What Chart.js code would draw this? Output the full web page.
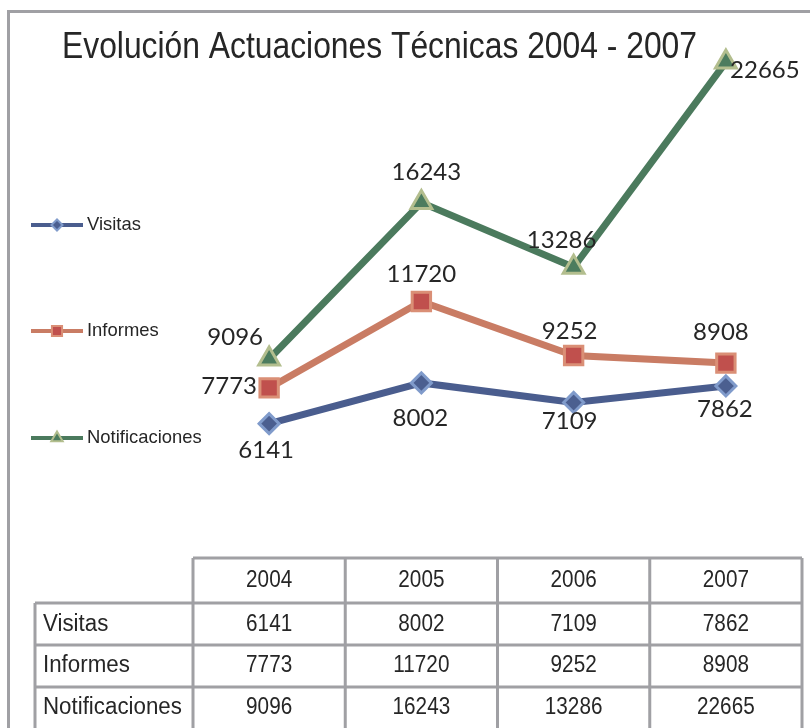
<!DOCTYPE html>
<html>
<head>
<meta charset="utf-8">
<script src="https://cdn.jsdelivr.net/npm/chart.js@4.4.1/dist/chart.umd.min.js"></script>
<style>
html,body{margin:0;padding:0;background:#fff;}
canvas{display:block;}
</style>
</head>
<body>
<canvas id="c" width="810" height="728"></canvas>
<script>
// ---- data ----
const categories = ['2004', '2005', '2006', '2007'];
const seriesNames = ['Visitas', 'Informes', 'Notificaciones'];
const visitas = [6141, 8002, 7109, 7862];
const informes = [7773, 11720, 9252, 8908];
const notificaciones = [9096, 16243, 13286, 22665];
const yMin = 0;
const yMax = 25000;
const titleText = 'Evolución Actuaciones Técnicas 2004 - 2007';

// ---- styles / label placement (not data) ----
const lineColors = ['#4A5D8E', '#C97C64', '#4B7A5D'];
const markerFill = ['#4B5F90', '#C0504D', '#4C7C5E'];
const markerBorder = ['#809BCB', '#DA8F76', '#B3BE8E'];
const markerStyle = ['rectRot', 'rect', 'triangle'];
const markerRadius = [10, 13, 12];
const labelOffsets = [
  [[-3, 27], [-1, 35], [-4, 19], [-1, 23]],
  [[-40, -2], [0, -27], [-4, -24], [-5, -31]],
  [[-34, -22], [5, -30], [-12, -27], [39, 8]]
];
const legendY = [225, 331, 438];
const GRAY = '#A0A0A4';
const TXT = '#262626';

function stxt(ctx, s, x, y, font, align, sx) {
  ctx.save();
  ctx.font = font;
  ctx.textAlign = align;
  ctx.textBaseline = 'middle';
  ctx.translate(x, y);
  ctx.scale(sx, 1);
  ctx.fillText(s, 0, 0);
  ctx.restore();
}

const allSeries = [visitas, informes, notificaciones];

const decorPlugin = {
  id: 'decor',
  beforeDraw(chart) {
    const ctx = chart.ctx;
    ctx.save();
    ctx.fillStyle = '#fff';
    ctx.fillRect(0, 0, chart.width, chart.height);
    ctx.restore();
  },
  afterDatasetsDraw(chart) {
    const ctx = chart.ctx;
    ctx.save();
    ctx.fillStyle = TXT;
    ctx.font = '24px Lato';
    ctx.textAlign = 'center';
    ctx.textBaseline = 'middle';
    chart.data.datasets.forEach((ds, i) => {
      const meta = chart.getDatasetMeta(i);
      meta.data.forEach((pt, j) => {
        const off = labelOffsets[i][j];
        ctx.fillText(String(ds.data[j]), pt.x + off[0], pt.y + off[1]);
      });
    });
    ctx.restore();
  },
  afterDraw(chart) {
    const ctx = chart.ctx;
    const xs = chart.scales.x;
    const area = chart.chartArea;
    ctx.save();
    // outer frame (top and left)
    ctx.strokeStyle = GRAY;
    ctx.lineWidth = 3;
    ctx.beginPath();
    ctx.moveTo(8.5, 728);
    ctx.lineTo(8.5, 11.5);
    ctx.lineTo(810, 11.5);
    ctx.stroke();

    // title
    ctx.fillStyle = TXT;
    ctx.font = '36px "Liberation Sans"';
    const tw = ctx.measureText(titleText).width;
    ctx.save();
    ctx.textAlign = 'left';
    ctx.textBaseline = 'alphabetic';
    ctx.translate(62, 58);
    ctx.scale(635 / tw, 1);
    ctx.fillText(titleText, 0, 0);
    ctx.restore();

    // legend
    chart.data.datasets.forEach((ds, i) => {
      const y = legendY[i];
      ctx.strokeStyle = lineColors[i];
      ctx.lineWidth = 4;
      ctx.beginPath();
      ctx.moveTo(31, y);
      ctx.lineTo(83, y);
      ctx.stroke();
      ctx.fillStyle = markerFill[i];
      ctx.strokeStyle = markerBorder[i];
      ctx.lineWidth = 2;
      Chart.helpers.drawPoint(ctx, {
        pointStyle: markerStyle[i],
        radius: markerRadius[i] * 0.55,
        borderWidth: 2
      }, 57, y);
      ctx.fillStyle = TXT;
      stxt(ctx, ds.label, 87, y, '19px "Liberation Sans"', 'left', 0.97);
    });

    // data table
    const half = (xs.getPixelForValue(1) - xs.getPixelForValue(0)) / 2;
    const left = area.left, right = area.right;
    const top = area.bottom;
    const rowTops = [top, 603, 645, 687];
    const rowBottom = 740;
    const labelLeft = 35;
    ctx.strokeStyle = GRAY;
    ctx.lineWidth = 3;
    ctx.beginPath();
    ctx.moveTo(left, top); ctx.lineTo(right, top);
    for (let r = 1; r < rowTops.length; r++) {
      ctx.moveTo(labelLeft, rowTops[r]); ctx.lineTo(right, rowTops[r]);
    }
    ctx.moveTo(labelLeft, rowTops[1]); ctx.lineTo(labelLeft, rowBottom);
    categories.forEach((c, j) => {
      const cx = xs.getPixelForValue(j);
      ctx.moveTo(cx - half, top); ctx.lineTo(cx - half, rowBottom);
    });
    ctx.moveTo(right, top); ctx.lineTo(right, rowBottom);
    ctx.stroke();

    ctx.fillStyle = TXT;
    const tfont = '23px "Liberation Sans"';
    categories.forEach((c, j) => {
      stxt(ctx, c, xs.getPixelForValue(j), 581, tfont, 'center', 0.9);
    });
    const rowMid = [625, 666, 708];
    chart.data.datasets.forEach((ds, i) => {
      stxt(ctx, ds.label, 43, rowMid[i], tfont, 'left', 0.97);
      ds.data.forEach((v, j) => {
        stxt(ctx, String(v), xs.getPixelForValue(j), rowMid[i], tfont, 'center', 0.9);
      });
    });
    ctx.restore();
  }
};

new Chart(document.getElementById('c'), {
  type: 'line',
  data: {
    labels: categories,
    datasets: allSeries.map((d, i) => ({
      label: seriesNames[i],
      data: d,
      borderColor: lineColors[i],
      borderWidth: 7,
      pointStyle: markerStyle[i],
      pointRadius: markerRadius[i],
      pointBackgroundColor: markerFill[i],
      pointBorderColor: markerBorder[i],
      pointBorderWidth: 3,
      tension: 0,
      fill: false,
      clip: false
    }))
  },
  options: {
    responsive: false,
    animation: false,
    devicePixelRatio: 1,
    layout: { autoPadding: false, padding: { left: 193, right: 8, top: 11, bottom: 170 } },
    plugins: {
      legend: { display: false },
      title: { display: false },
      tooltip: { enabled: false }
    },
    scales: {
      x: { type: 'category', display: false, offset: true },
      y: { display: false, min: yMin, max: yMax }
    }
  },
  plugins: [decorPlugin]
});
</script>
</body>
</html>
